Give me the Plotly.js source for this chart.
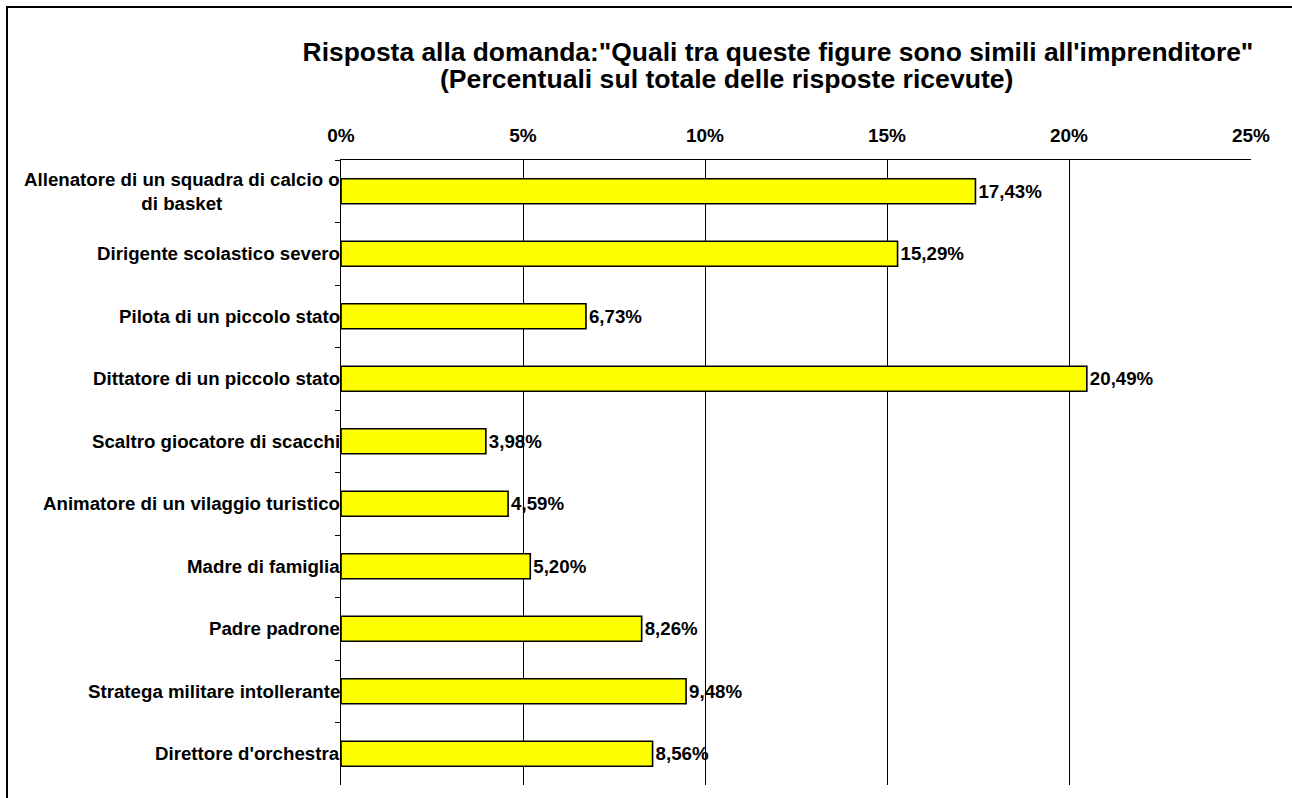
<!DOCTYPE html>
<html>
<head>
<meta charset="utf-8">
<script src="https://cdn.plot.ly/plotly-3.0.1.min.js"></script>
<style>
html,body{margin:0;padding:0;background:#fff;overflow:hidden;}
#wrap{position:relative;width:1292px;height:798px;}
#chart{position:absolute;left:0;top:0;width:1292px;height:798px;}
#frame{position:absolute;left:6px;top:6px;width:1400px;height:1000px;border:2px solid #000;pointer-events:none;}
</style>
</head>
<body>
<div id="wrap"><div id="chart"></div><div id="frame"></div></div>
<script>
const categories = [
  "Allenatore di un squadra di calcio o<br>di basket",
  "Dirigente scolastico severo",
  "Pilota di un piccolo stato",
  "Dittatore di un piccolo stato",
  "Scaltro giocatore di scacchi",
  "Animatore di un vilaggio turistico",
  "Madre di famiglia",
  "Padre padrone",
  "Stratega militare intollerante",
  "Direttore d'orchestra"
];
const percentages = [17.43, 15.29, 6.73, 20.49, 3.98, 4.59, 5.20, 8.26, 9.48, 8.56];
const titleLine1 = 'Risposta alla domanda:"Quali tra queste figure sono simili all\'imprenditore"';
const titleLine2 = '(Percentuali sul totale delle risposte ricevute)';

const FONT = 'Liberation Sans, Arial, sans-serif';
const LABEL_SIZE = 18.7;

const trace = {
  type: 'bar',
  orientation: 'h',
  x: percentages,
  y: categories,
  marker: {color: '#FFFF00', line: {color: '#000000', width: 1.6}},
  texttemplate: '%{x:.2f}%',
  textposition: 'outside',
  cliponaxis: false,
  textfont: {family: FONT, size: LABEL_SIZE, color: '#000', weight: 'bold'},
  hoverinfo: 'skip'
};

// category labels drawn as centred multi-line blocks ending at the axis
const labelAnnotations = categories.map(c => ({
  text: '<b>' + c + '</b>',
  xref: 'paper', yref: 'y',
  x: 0, y: c,
  xanchor: 'right', yanchor: 'middle',
  align: 'center',
  xshift: 1,
  showarrow: false,
  font: {family: FONT, size: LABEL_SIZE, color: '#000'}
}));

const layout = {
  width: 1292, height: 798,
  margin: {l: 341, r: 41, t: 160, b: 13, pad: 0},
  paper_bgcolor: '#fff', plot_bgcolor: '#fff',
  separators: ',.',
  showlegend: false,
  bargap: 0.6,
  font: {family: FONT, color: '#000'},
  title: {
    text: '<b>' + titleLine1 + '</b>',
    font: {family: FONT, size: 26.4, color: '#000'},
    xref: 'container', yref: 'container',
    x: 778/1292, xanchor: 'center',
    y: 1 - 51.5/798, yanchor: 'middle'
  },
  annotations: [{
    text: '<b>' + titleLine2 + '</b>',
    xref: 'paper', yref: 'paper',
    x: (726-341)/910, y: (785-79)/625,
    xanchor: 'center', yanchor: 'middle',
    showarrow: false,
    font: {family: FONT, size: 26.6, color: '#000'}
  }].concat(labelAnnotations),
  xaxis: {
    side: 'top',
    range: [0, 25],
    dtick: 5, tick0: 0,
    ticksuffix: '%',
    showgrid: true, gridcolor: '#000', gridwidth: 1,
    zeroline: false,
    showline: true, linecolor: '#000', linewidth: 1,
    ticks: '',
    ticklabelstandoff: 9,
    tickfont: {family: FONT, size: 19, color: '#000', weight: 'bold'},
    fixedrange: true
  },
  yaxis: {
    autorange: 'reversed',
    type: 'category',
    showline: true, linecolor: '#000', linewidth: 1,
    ticks: 'outside', tickson: 'boundaries', ticklen: 5, tickcolor: '#000',
    showticklabels: false,
    showgrid: false,
    fixedrange: true
  }
};

Plotly.newPlot('chart', [trace], layout, {displayModeBar: false, staticPlot: true});
</script>
</body>
</html>
